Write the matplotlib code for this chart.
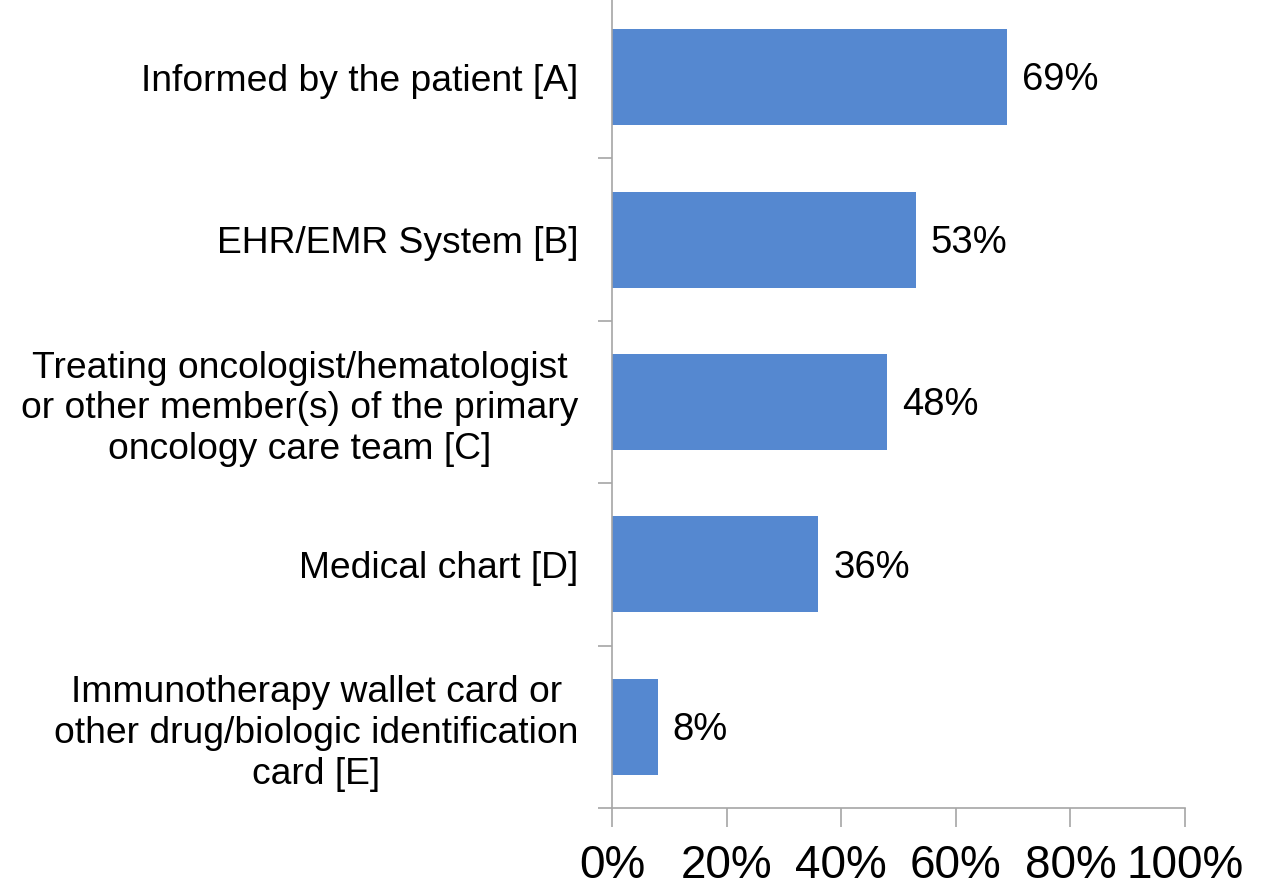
import numpy as np
import matplotlib
matplotlib.use("Agg")
import matplotlib.pyplot as plt
from matplotlib.ticker import FixedLocator, FuncFormatter

plt.rcParams['font.family'] = ['Liberation Sans', 'DejaVu Sans']

categories = [
    'Informed by the patient [A]',
    'EHR/EMR System [B]',
    'Treating oncologist/hematologist\nor other member(s) of the primary\noncology care team [C]',
    'Medical chart [D]',
    'Immunotherapy wallet card or\nother drug/biologic identification\ncard [E]',
]
values = [69, 53, 48, 36, 8]
xticks = [0, 20, 40, 60, 80, 100]

bar_color = '#5588D0'
axis_color = '#A6A6A6'

fig = plt.figure(figsize=(12.63, 8.89), dpi=100)
ax = fig.add_axes([612 / 1263, 1 - 808 / 889, (1185 - 612) / 1263, 812 / 889])

y = np.arange(len(categories))
ax.barh(y, values, height=0.59, color=bar_color)
ax.set_ylim(len(categories) - 0.5, -0.5)
ax.set_xlim(0, 100)

for yi, v in zip(y, values):
    ax.text(v + 2.6, yi + 0.02, '{}%'.format(v), va='center', ha='left', fontsize=27.5)

ax.set_yticks(y)
ax.set_yticklabels(categories, fontsize=26.8, linespacing=1.22)
for lab in ax.get_yticklabels():
    lab.set_multialignment('center')
ax.yaxis.set_minor_locator(FixedLocator(np.arange(len(categories)) + 0.5))
ax.tick_params(axis='y', which='major', length=0, pad=24)
ax.tick_params(axis='y', which='minor', length=10, color=axis_color, width=1.2)

ax.set_xticks(xticks)
ax.xaxis.set_major_formatter(FuncFormatter(lambda v, p: '{:d}%'.format(int(v))))
ax.tick_params(axis='x', length=14, color=axis_color, width=1.2, labelsize=33, pad=12)

for s in ['top', 'right']:
    ax.spines[s].set_visible(False)
for s in ['left', 'bottom']:
    ax.spines[s].set_color(axis_color)
    ax.spines[s].set_linewidth(1.2)

plt.savefig('out.png', dpi=100)
